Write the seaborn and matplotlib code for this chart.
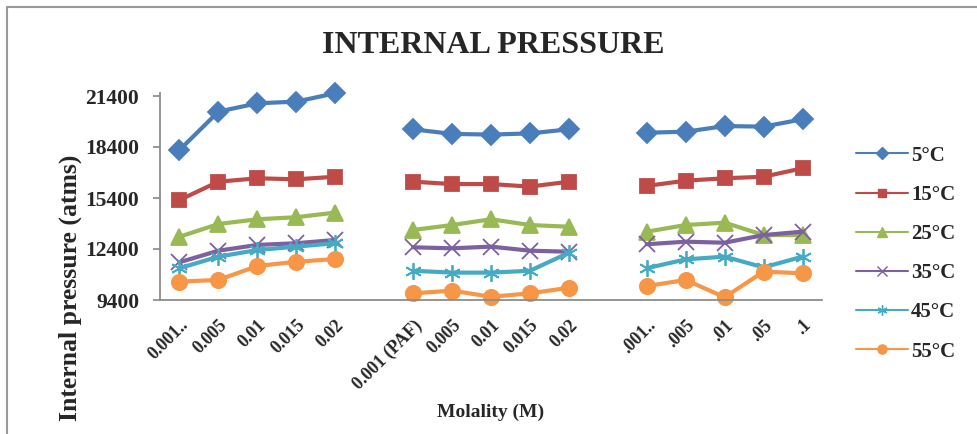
import numpy as np
import pandas as pd
import matplotlib.pyplot as plt
import seaborn as sns
from matplotlib.lines import Line2D

# Données (trois séries de molalités)
categories = ["0.001..", "0.005", "0.01", "0.015", "0.02",
              "0.001 (PAF)", "0.005", "0.01", "0.015", "0.02",
              ".001..", ".005", ".01", ".05", ".1"]
temperatures = ["5°C", "15°C", "25°C", "35°C", "45°C", "55°C"]

p_5 = [18220, 20480, 20970, 21070, 21560,
       19440, 19170, 19130, 19200, 19440,
       19240, 19300, 19630, 19600, 20030]
p_15 = [15280, 16360, 16560, 16500, 16650,
        16360, 16220, 16220, 16070, 16360,
        16110, 16420, 16560, 16650, 17150]
p_25 = [13120, 13870, 14150, 14270, 14540,
        13520, 13810, 14150, 13810, 13710,
        13420, 13810, 13950, 13220, 13220]
p_35 = [11620, 12300, 12640, 12740, 12930,
        12500, 12440, 12540, 12300, 12240,
        12680, 12830, 12770, 13220, 13420]
p_45 = [11270, 11950, 12340, 12540, 12740,
        11120, 11010, 11010, 11120, 12180,
        11270, 11790, 11950, 11320, 11950]
p_55 = [10480, 10580, 11400, 11650, 11810,
        9790, 9950, 9590, 9790, 10120,
        10220, 10580, 9560, 11070, 10970]

valeurs = [p_5, p_15, p_25, p_35, p_45, p_55]
couleurs = ["#4A7EBB", "#BE4B48", "#98B954", "#7D60A0", "#46AAC5", "#F79646"]
marqueurs = ["D", "s", "^", "x", (6, 2, 0), "o"]
tailles = [10, 10, 11, 11, 12, 11]

# Positions : 5 points par groupe, une case vide entre les groupes
positions = [g * 6 + i for g in range(3) for i in range(5)]
groupes = [g for g in range(3) for i in range(5)]

lignes = []
for t, vals in zip(temperatures, valeurs):
    for pos, grp, v in zip(positions, groupes, vals):
        lignes.append({"temp": t, "pos": pos, "groupe": grp, "pression": v})
data = pd.DataFrame(lignes)

sns.set_theme(style="white")
plt.rcParams['font.family'] = ['Liberation Serif', 'DejaVu Serif']

fig = plt.figure(figsize=(9.77, 4.34), dpi=100)
ax = fig.add_axes([160 / 977, 134 / 434, 662 / 977, 207.4 / 434])

for t, c, m, ms in zip(temperatures, couleurs, marqueurs, tailles):
    for g in range(3):
        sub = data[(data["temp"] == t) & (data["groupe"] == g)]
        sns.lineplot(data=sub, x="pos", y="pression", color=c, marker=m,
                     markersize=ms, linewidth=3, markeredgecolor=c,
                     markeredgewidth=1.3, ax=ax, legend=False, clip_on=False)

ax.set_xlim(-0.5, 16.5)
ax.set_ylim(9400, 21600)
ax.set_yticks([9400, 12400, 15400, 18400, 21400])
ax.set_xticks(positions)
ax.set_xticklabels(categories, rotation=45, ha="right", va="top",
                   rotation_mode="anchor", fontsize=13, fontweight="bold")
for lab in ax.get_yticklabels():
    lab.set_fontsize(15.5)
    lab.set_fontweight("bold")

for s in ["top", "right"]:
    ax.spines[s].set_visible(False)
for s in ["left", "bottom"]:
    ax.spines[s].set_color("#8C8C8C")
    ax.spines[s].set_linewidth(1.3)
ax.tick_params(axis="y", left=True, length=5, color="#8C8C8C", pad=10)
ax.tick_params(axis="x", bottom=False, pad=6)

ax.set_xlabel("Molality (M)", fontsize=14, fontweight="bold")
ax.set_ylabel("Internal pressure (atms)", fontsize=18.5, fontweight="bold")
ax.xaxis.set_label_coords(0.5, -0.5)
ax.yaxis.set_label_coords(-0.118, 0.06)
fig.text(0.505, 0.895, "INTERNAL PRESSURE", ha="center", va="center",
         fontsize=23, fontweight="bold")

# Légende
poignees = [Line2D([0], [0], color=c, marker=m, markersize=ms * 0.6,
                   markeredgecolor=c, lw=1.5)
            for c, m, ms in zip(couleurs, marqueurs, tailles)]
fig.legend(poignees, temperatures, loc="upper left",
           bbox_to_anchor=(837 / 977, 1 - 127 / 434), frameon=False,
           prop={"size": 15, "weight": "bold"}, handlelength=2.5,
           labelspacing=0.92, handletextpad=0.15)

# Cadre du graphique
fig.add_artist(Line2D([7 / 977, 7 / 977], [0, 1 - 7 / 434], color="#999999", lw=1.5))
fig.add_artist(Line2D([7 / 977, 1], [1 - 7 / 434, 1 - 7 / 434], color="#999999", lw=1.5))

fig.savefig("out.png", dpi=100)
